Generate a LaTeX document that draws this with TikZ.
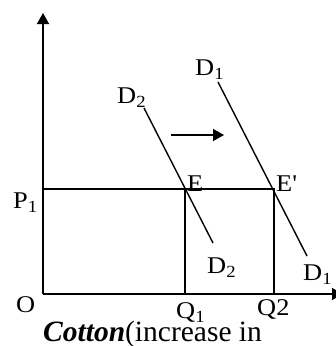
\documentclass[tikz,border=0pt]{standalone}
\usepackage{fontspec}
\setmainfont{Liberation Serif}
\newfontfamily\lblfont{Liberation Serif}[FakeStretch=1.1]
\usetikzlibrary{arrows.meta}
\newcommand\mysub[1]{\raisebox{-4.5pt}{\fontsize{17}{17}\selectfont #1}}
\tikzset{
  ln/.style={line width=1.4pt, line cap=rect},
  ax/.style={line width=1.4pt, -{Triangle[length=11pt,width=12pt]}},
  lbl/.style={anchor=base west, inner sep=0pt, font=\lblfont\fontsize{24}{28}\selectfont},
  captext/.style={anchor=base west, inner sep=0pt, font=\fontsize{29.5}{33}\selectfont}
}
\begin{document}
\begin{tikzpicture}[x=1pt,y=-1pt]
\useasboundingbox (0,0) rectangle (336,346);
% key points
\coordinate (O) at (43,294);
\coordinate (Ytop) at (43,13);
\coordinate (Xend) at (343,294);
\coordinate (P) at (43,189);
\coordinate (E) at (185,189);
\coordinate (Ep) at (274,189);
\coordinate (Q1) at (185,294);
\coordinate (Q2) at (274,294);
\coordinate (D2a) at (144,108);
\coordinate (D2b) at (213,243);
\coordinate (D1a) at (218,82);
\coordinate (D1b) at (307,256);
\coordinate (Sa) at (171,135);
\coordinate (Sb) at (224,135);
% axes
\draw[ax] (O) -- (Ytop);
\draw[ax] (O) -- (Xend);
% guide lines
\draw[ln] (P) -- (E) -- (Ep);
\draw[ln] (E) -- (Q1);
\draw[ln] (Ep) -- (Q2);
% demand curves
\draw[ln, line cap=butt] (D2a) -- (D2b);
\draw[ln, line cap=butt] (D1a) -- (D1b);
% shift arrow
\draw[ax] (Sa) -- (Sb);
% labels
\node[lbl] (lD1t) at (195,75) {D\mysub{1}};
\node[lbl] (lD2t) at (117,103) {D\mysub{2}};
\node[lbl] (lE) at (187,191) {E};
\node[lbl] (lEp) at (276,191) {E\textquotesingle};
\node[lbl] (lP) at (13,208) {P\mysub{1}};
\node[lbl] (lD2b) at (207,273) {D\mysub{2}};
\node[lbl] (lD1b) at (303,280) {D\mysub{1}};
\node[lbl] (lO) at (16,312) {O};
\node[lbl] (lQ1) at (176,318) {Q\mysub{1}};
\node[lbl] (lQ2) at (257,315) {Q2};
\node[captext] (lC) at (43,341) {\textbf{\textit{Cotton}}(increase in};
\end{tikzpicture}
\end{document}
